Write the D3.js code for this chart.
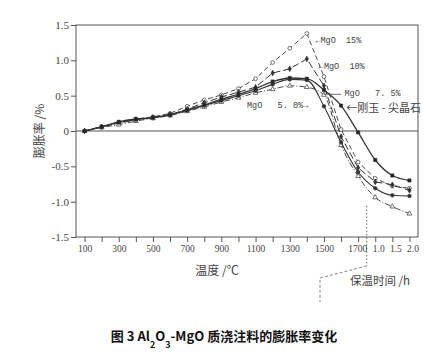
<!DOCTYPE html>
<html>
<head>
<meta charset="utf-8">
<script src="https://cdn.jsdelivr.net/npm/d3@7"></script>
<style>
  body { margin: 0; background: #fff; }
  svg { display: block; }
  .tick text { font-family: "Liberation Serif", serif; fill: #444; }
  .tick line { stroke: #555; }
  .note { font-family: "Liberation Mono", monospace; font-size: 8.5px; fill: #444; white-space: pre; }
  .cjk { font-family: "Noto Sans CJK SC", sans-serif; fill: #444; }
</style>
</head>
<body>
<div id="chart"></div>
<script>
// temperatures (°C) and holding time (h) share one bottom axis
const temps = [100, 200, 300, 400, 500, 600, 700, 800, 900, 1000, 1100, 1200, 1300, 1400, 1500, 1600, 1700];
const holdHours = [1.0, 1.5, 2.0];
const xTickLabels = ["100", "300", "500", "700", "900", "1100", "1300", "1500", "1700", "1.0", "1.5", "2.0"];
const yTicks = [-1.5, -1.0, -0.5, 0, 0.5, 1.0, 1.5];

// expansion rate (%), 17 temperature points then 3 holding points
const mgo15 = [0, 0.06, 0.12, 0.17, 0.20, 0.25, 0.35, 0.44, 0.51, 0.60, 0.74, 0.97, 1.17, 1.38, 0.77, 0.02, -0.44, -0.67, -0.78, -0.81];
const mgo10 = [0, 0.06, 0.11, 0.16, 0.19, 0.23, 0.31, 0.40, 0.48, 0.55, 0.62, 0.82, 0.88, 1.02, 0.64, -0.08, -0.52, -0.72, -0.76, -0.84];
const spinel = [0, 0.06, 0.13, 0.17, 0.19, 0.23, 0.30, 0.37, 0.45, 0.52, 0.60, 0.70, 0.75, 0.74, 0.58, 0.36, -0.02, -0.41, -0.63, -0.70];
const mgo50 = [0, 0.06, 0.12, 0.16, 0.19, 0.23, 0.29, 0.36, 0.43, 0.50, 0.57, 0.66, 0.73, 0.72, 0.35, -0.16, -0.58, -0.81, -0.91, -0.92];
const mgo75 = [0, 0.05, 0.09, 0.14, 0.18, 0.22, 0.28, 0.34, 0.41, 0.47, 0.54, 0.59, 0.64, 0.62, 0.51, -0.20, -0.64, -0.94, -1.07, -1.17];

const width = 448, height = 354;
const margin = {left: 76, right: 30, top: 25, bottom: 117};

// holding hours sit after 1700 on the same spacing as 100 °C
const holdPos = h => 1600 + 200 * h;
const xPos = temps.concat(holdHours.map(holdPos));

const svg = d3.select("#chart").append("svg")
  .attr("width", width)
  .attr("height", height);

const x = d3.scaleLinear()
  .domain([50, 2050])
  .range([margin.left, width - margin.right]);

const y = d3.scaleLinear()
  .domain([-1.5, 1.5])
  .range([height - margin.bottom, margin.top]);

// axes
let xTicks = d3.range(100, 2001, 100);
let labelAt = {};
xTicks.filter(d => (d <= 1700 && d % 200 === 100) || d > 1700)
  .forEach((d, i) => { labelAt[d] = xTickLabels[i]; });

let xAxis = d3.axisBottom(x)
  .tickValues(xTicks)
  .tickSize(5)
  .tickPadding(3)
  .tickFormat(d => labelAt[d] || "");

let yAxis = d3.axisLeft(y)
  .tickValues(yTicks)
  .tickSize(5)
  .tickPadding(2)
  .tickFormat(d => d === 0 ? "0" : d.toFixed(1));

let xg = svg.append("g")
  .attr("transform", "translate(0," + y(-1.5) + ")")
  .call(xAxis);
xg.select(".domain").remove();
xg.selectAll("text").style("font-size", "9.5px");
// hold-time labels sit a little right of their ticks
xg.selectAll(".tick").filter(d => d > 1700).select("text").attr("dx", 3);
xg.selectAll(".tick").filter(d => d === 1700).select("text").attr("dx", -1);

let yg = svg.append("g")
  .attr("transform", "translate(" + x(50) + ",0)")
  .call(yAxis);
yg.select(".domain").remove();
yg.selectAll("text").style("font-size", "11px");

// frame and zero line
svg.append("rect")
  .attr("x", x(50))
  .attr("y", y(1.5))
  .attr("width", x(2050) - x(50))
  .attr("height", y(-1.5) - y(1.5))
  .attr("fill", "none")
  .attr("stroke", "#555")
  .attr("stroke-width", 1);

svg.append("line")
  .attr("x1", x(50)).attr("x2", x(2050))
  .attr("y1", y(0)).attr("y2", y(0))
  .attr("stroke", "#555");

// series
const series = [
  {name: "mgo15", values: mgo15, dash: "5,3", width: 0.9, curve: d3.curveLinear, symbol: d3.symbolCircle, size: 11, fill: "#fff"},
  {name: "mgo10", values: mgo10, dash: "7,3", width: 1.0, curve: d3.curveLinear, symbol: d3.symbolDiamond, size: 9, fill: "#333"},
  {name: "mgo75", values: mgo75, dash: "6,2,1,2", width: 0.9, curve: d3.curveMonotoneX, symbol: d3.symbolTriangle, size: 10, fill: "#fff"},
  {name: "mgo50", values: mgo50, dash: null, width: 1.1, curve: d3.curveMonotoneX, symbol: d3.symbolCircle, size: 10, fill: "#333"},
  {name: "spinel", values: spinel, dash: null, width: 1.3, curve: d3.curveMonotoneX, symbol: d3.symbolSquare, size: 10, fill: "#222"}
];

let plot = svg.append("g");

series.forEach(function(s) {
  let pts = s.values.map((v, i) => ({pos: xPos[i], value: v}));

  let line = d3.line()
    .x(d => x(d.pos))
    .y(d => y(d.value))
    .curve(s.curve);

  plot.append("path")
    .attr("d", line(pts))
    .attr("fill", "none")
    .attr("stroke", "#333")
    .attr("stroke-width", s.width)
    .attr("stroke-dasharray", s.dash);

  plot.selectAll("path." + s.name)
    .data(pts)
    .enter()
    .append("path")
    .attr("class", s.name)
    .attr("transform", d => "translate(" + x(d.pos) + "," + y(d.value) + ")")
    .attr("d", d3.symbol().type(s.symbol).size(s.size))
    .attr("fill", s.fill)
    .attr("stroke", "#333")
    .attr("stroke-width", 0.7);
});

// series labels
svg.append("text").attr("class", "note")
  .attr("x", x(1450)).attr("y", y(1.24))
  .text("←MgO  15%");
svg.append("text").attr("class", "note")
  .attr("x", x(1470)).attr("y", y(0.88))
  .text("←MgO  10%");
svg.append("line")
  .attr("x1", x(1500)).attr("x2", x(1600))
  .attr("y1", y(0.52)).attr("y2", y(0.52))
  .attr("stroke", "#444").attr("stroke-width", 0.8);
svg.append("text").attr("class", "note")
  .attr("x", x(1620)).attr("y", 96)
  .text("MgO   7. 5%");
svg.append("text").attr("class", "note")
  .attr("x", x(1050)).attr("y", y(0.33))
  .text("MgO   5. 0%→");
svg.append("text").attr("class", "cjk")
  .attr("x", x(1630)).attr("y", 112)
  .style("font-size", "11px")
  .text("←刚玉 - 尖晶石");

// axis titles
svg.append("text").attr("class", "cjk")
  .attr("x", 217).attr("y", 275)
  .style("font-size", "12px")
  .style("text-anchor", "middle")
  .text("温度 /℃");

svg.append("text").attr("class", "cjk")
  .attr("transform", "translate(44," + y(0) + ") rotate(-90)")
  .style("font-size", "12px")
  .style("text-anchor", "middle")
  .text("膨胀率 /%");

svg.append("text").attr("class", "cjk")
  .attr("x", 350).attr("y", 285)
  .style("font-size", "11.5px")
  .text("保温时间 /h");

// bracket marking the holding-time section
let bx = x(1750);
svg.append("path")
  .attr("d", "M" + bx + "," + y(-1.06) + "V266")
  .attr("fill", "none").attr("stroke", "#555")
  .attr("stroke-width", 0.9).attr("stroke-dasharray", "1.5,2");
svg.append("path")
  .attr("d", "M" + bx + ",266L320,278V302")
  .attr("fill", "none").attr("stroke", "#666")
  .attr("stroke-width", 0.8).attr("stroke-dasharray", "3,2");

// caption
let cap = svg.append("text")
  .attr("x", 224).attr("y", 341)
  .style("text-anchor", "middle")
  .style("font-family", "'Noto Sans CJK SC', sans-serif")
  .style("font-size", "13px")
  .style("font-weight", "bold")
  .attr("fill", "#111");
cap.append("tspan").text("图 3 Al");
cap.append("tspan").attr("baseline-shift", "sub").style("font-size", "9px").text("2");
cap.append("tspan").text("O");
cap.append("tspan").attr("baseline-shift", "sub").style("font-size", "9px").text("3");
cap.append("tspan").text("-MgO 质浇注料的膨胀率变化");
</script>
</body>
</html>
